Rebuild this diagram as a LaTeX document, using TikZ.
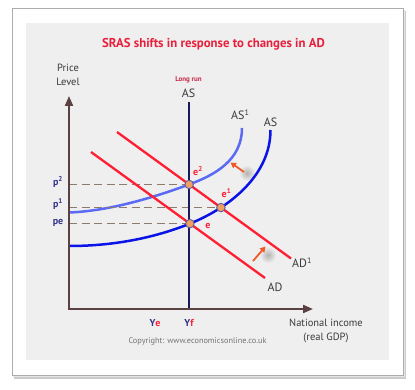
\documentclass[tikz,border=0pt]{standalone}
\usepackage{fontspec}
\setmainfont{PT Sans}
\usetikzlibrary{arrows.meta,intersections}
\definecolor{panel}{HTML}{EFEFEF}
\definecolor{titlered}{HTML}{E8203C}
\definecolor{lrascol}{HTML}{1C1A5A}
\definecolor{ascol}{HTML}{0A14E6}
\definecolor{asonecol}{HTML}{5A6AF5}
\definecolor{adcol}{HTML}{FF1E32}
\definecolor{axiscol}{HTML}{5B4141}
\definecolor{dashcol}{HTML}{8C7B6B}
\definecolor{dotfill}{HTML}{EFA060}
\definecolor{dotedge}{HTML}{5A5AA0}
\definecolor{labgray}{HTML}{3A3A3A}
\definecolor{pblue}{HTML}{33338C}
\definecolor{arrowcol}{HTML}{F05A28}
\definecolor{longrun}{HTML}{C8284A}
\begin{document}
\begin{tikzpicture}[x=1pt,y=-1pt,
  axisline/.style={draw=axiscol, line width=2pt},
  dashline/.style={draw=dashcol, line width=1.1pt, dash pattern=on 8pt off 4.5pt},
  lrasline/.style={draw=lrascol, line width=2.6pt},
  ascurve/.style={draw=ascol, line width=2.5pt},
  asonecurve/.style={draw=asonecol, line width=2.5pt},
  adline/.style={draw=adcol, line width=2.3pt},
  dot/.style={circle, fill=dotfill, draw=dotedge, line width=0.9pt, inner sep=0pt, minimum size=8.5pt},
  lab/.style={text=labgray, inner sep=0pt},
  elab/.style={text=adcol, font=\bfseries\fontsize{10}{12}\selectfont, inner sep=0pt},
  plab/.style={text=pblue, font=\bfseries\fontsize{10}{12}\selectfont, inner sep=0pt},
  shiftarrow/.style={draw=arrowcol, line width=1.8pt, -{Triangle[length=5.5pt,width=6pt]}},
  blob/.style={inner color=gray!60, outer color=panel}
]
\useasboundingbox (0,0) rectangle (415,390);
% frame
\fill[gray!40] (14,11) rectangle (406,379);
\fill[gray!20] (13,10) rectangle (405,377);
\filldraw[fill=white, draw=gray!65, line width=0.9pt] (12,8) rectangle (403,375);
\fill[panel] (26,23) rectangle (389,360);

% title
\node[text=titlered, font=\bfseries\fontsize{12.8}{15}\selectfont, inner sep=0pt] (title) at (213.5,44.5) {SRAS shifts in response to changes in AD};

% axes coordinates
\coordinate (O) at (69,309);
\coordinate (ytop) at (69,96);
\coordinate (xend) at (313,309);

% shift arrow shadows
\shade[blob] (247,173) circle (8pt);
\shade[blob] (268,255) circle (8pt);

% curves
\draw[asonecurve, name path=ASone] (69,212.5) .. controls (110,211) and (155,197) .. (189,184.5) .. controls (215,175) and (242,160) .. (242,128);
\draw[ascurve, name path=AS] (69,246) .. controls (120,246) and (160,235.5) .. (189,224) .. controls (230,207.7) and (270.5,175) .. (270.5,130);

\coordinate (adA) at (91,152);
\coordinate (adB) at (265,278);
\coordinate (adoneA) at (117,132);
\coordinate (adoneB) at (291,258.5);
\path[name path=AD] (adA) -- (adB);
\path[name path=ADone] (adoneA) -- (adoneB);
\path[name intersections={of=AD and AS, by=e}];
\path[name intersections={of=ADone and AS, by=eone}];
\path[name intersections={of=ADone and ASone, by=etwo}];

% dashed guides
\draw[dashline] (O |- etwo) -- (etwo);
\draw[dashline] (O |- eone) -- (eone);
\draw[dashline] (O |- e) -- (e);

% AD lines
\draw[adline] (adA) -- (adB);
\draw[adline] (adoneA) -- (adoneB);

% long run AS
\coordinate (lrtop) at (189,102);
\draw[lrasline] (lrtop) -- (lrtop |- O);

% axes
\draw[axisline, {Triangle[length=10pt,width=8pt]}-{Triangle[length=10pt,width=8pt]}] (ytop) -- (O) -- (xend);

% points
\node[dot] (de) at (e) {};
\node[dot] (deone) at (eone) {};
\node[dot] (detwo) at (etwo) {};

% shift arrows
\coordinate (aonetail) at (244,172);
\coordinate (aonehead) at (230.5,162.5);
\draw[shiftarrow] (aonetail) -- (aonehead);
\coordinate (atwotail) at (253,261);
\coordinate (atwohead) at (265.5,246.5);
\draw[shiftarrow] (atwotail) -- (atwohead);

% labels
\node[lab, font=\fontsize{10.5}{12}\selectfont] (price) at (68,68) {Price};
\node[lab, font=\fontsize{10.5}{12}\selectfont] (level) at (68,81.5) {Level};
\node[text=longrun, font=\bfseries\fontsize{7}{8}\selectfont, inner sep=0pt] (lr) at (188.5,79.5) {Long run};
\node[lab, font=\fontsize{12}{14}\selectfont] (lrlab) at (188.5,93.5) {AS};
\node[lab, font=\fontsize{12}{14}\selectfont, anchor=west] (asonelab) at (231,115) {AS\textsuperscript{1}};
\node[lab, font=\fontsize{12}{14}\selectfont] (aslab) at (270.5,122) {AS};
\node[lab, font=\fontsize{12}{14}\selectfont, anchor=west] (adonelab) at (292,263) {AD\textsuperscript{1}};
\node[lab, font=\fontsize{12}{14}\selectfont] (adlab) at (275,287) {AD};
\node[elab] (etwolab) at (198,171) {e\textsuperscript{2}};
\node[elab] (eonelab) at (226.5,193) {e\textsuperscript{1}};
\node[elab] (elab) at (208,226) {e};
\node[plab] (ptwo) at (58,182) {p\textsuperscript{2}};
\node[plab] (pone) at (58,204) {p\textsuperscript{1}};
\node[plab] (pe) at (58,223) {pe};
\node[font=\bfseries\fontsize{10}{12}\selectfont, inner sep=0pt] (ye) at (155,323) {\textcolor{pblue}{Y}\textcolor{adcol}{e}};
\node[font=\bfseries\fontsize{10}{12}\selectfont, inner sep=0pt] (yf) at (189,323) {\textcolor{pblue}{Y}\textcolor{adcol}{f}};
\node[lab, font=\fontsize{10.5}{12}\selectfont] (natinc) at (326,322.5) {National income};
\node[lab, font=\fontsize{10.5}{12}\selectfont] (realgdp) at (326,337.5) {(real GDP)};
\node[text=gray!90!black, font=\fontsize{8.3}{10}\selectfont, inner sep=0pt] (copy) at (197.5,341.5) {Copyright: www.economicsonline.co.uk};
\end{tikzpicture}
\end{document}
